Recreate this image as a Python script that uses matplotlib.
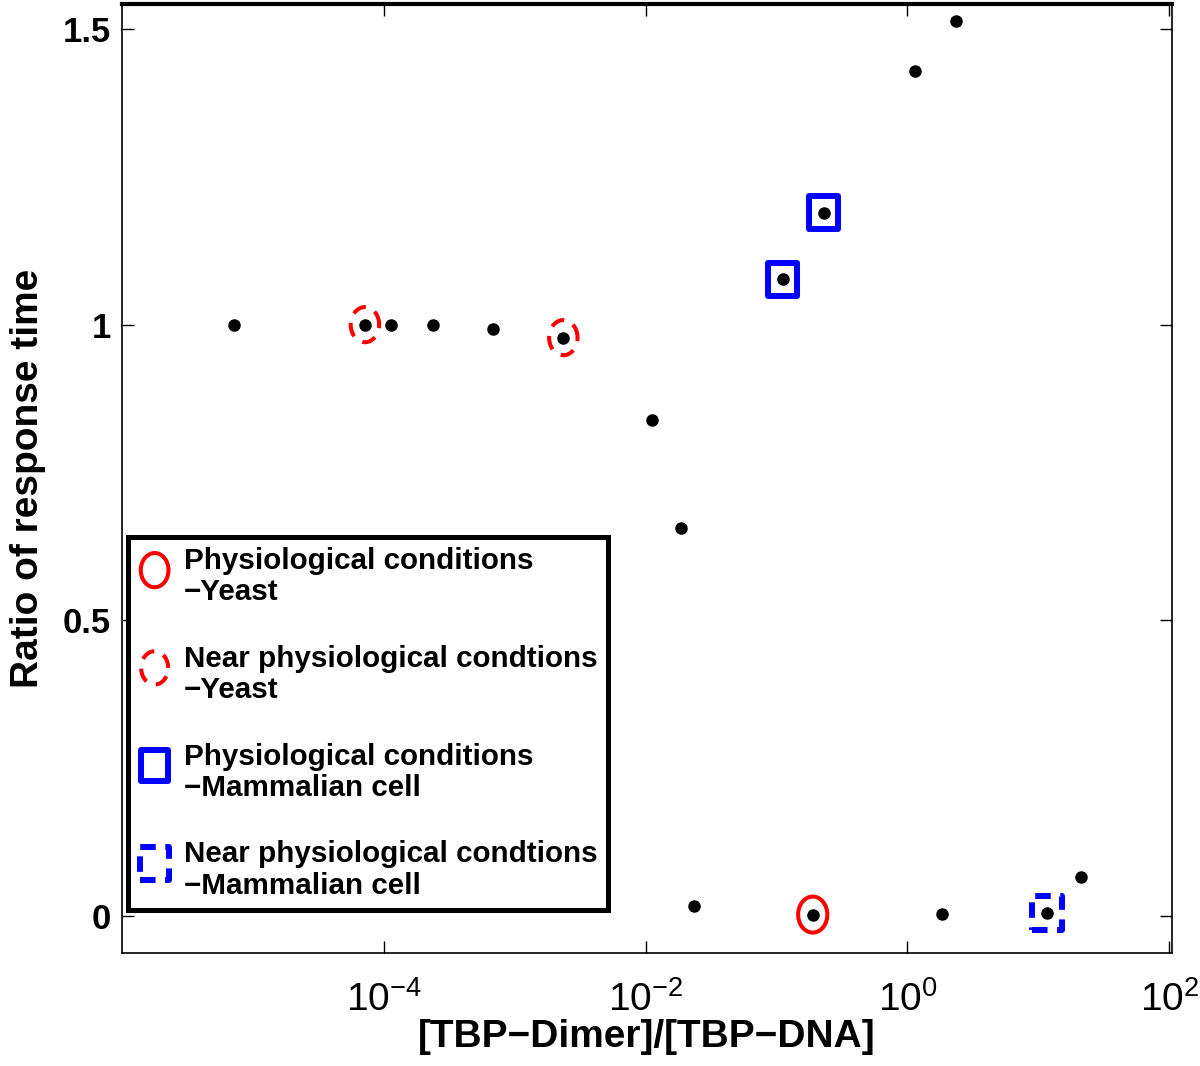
import matplotlib
matplotlib.use("Agg")
import matplotlib.pyplot as plt
import numpy as np
from matplotlib.path import Path
from matplotlib.ticker import FixedLocator, NullLocator

# data
ratio_x = [7.19e-6, 7.17e-5, 1.13e-4, 2.36e-4, 6.77e-4, 2.35e-3, 0.0112, 0.0187,
           0.0235, 0.1117, 0.229, 0.189, 1.15, 2.36, 1.85, 11.7, 21.2]
ratio_y = [1.0, 1.0, 1.0, 1.0, 0.993, 0.978, 0.839, 0.656,
           0.017, 1.077, 1.189, 0.002, 1.429, 1.514, 0.003, 0.005, 0.066]

phys_yeast_x, phys_yeast_y = [0.189], [0.002]
near_yeast_x, near_yeast_y = [7.17e-5, 2.35e-3], [1.0, 0.978]
phys_mamm_x, phys_mamm_y = [0.1117, 0.229], [1.077, 1.189]
near_mamm_x, near_mamm_y = [11.7], [0.005]

legend_labels = ["Physiological conditions\n\u2212Yeast",
                 "Near physiological condtions\n\u2212Yeast",
                 "Physiological conditions\n\u2212Mammalian cell",
                 "Near physiological condtions\n\u2212Mammalian cell"]

xticks = [1e-4, 1e-2, 1e0, 1e2]
xticklabels = [r"$10^{-4}$", r"$10^{-2}$", r"$10^{0}$", r"$10^{2}$"]
yticks = [0, 0.5, 1, 1.5]
yticklabels = ["0", "0.5", "1", "1.5"]

plt.rcParams["font.family"] = ["Liberation Sans", "DejaVu Sans"]
plt.rcParams["mathtext.fontset"] = "custom"
plt.rcParams["mathtext.rm"] = "Liberation Sans"
plt.rcParams["mathtext.default"] = "regular"

# tall ellipse and tall rectangle markers
t = np.linspace(0, 2 * np.pi, 80)
ellipse = Path(np.column_stack([0.81 * np.cos(t), np.sin(t)]), closed=True)
rect = Path([(-0.88, -1), (0.88, -1), (0.88, 1), (-0.88, 1), (-0.88, -1)], closed=True)

fig = plt.figure(figsize=(12, 10.66), dpi=100)
ax = fig.add_axes([0.1017, 0.106, 0.875, 0.890])

ax.scatter(phys_yeast_x, phys_yeast_y, s=672, marker=ellipse, facecolors="none",
           edgecolors="red", linewidths=2.9, label=legend_labels[0], zorder=2)
ax.scatter(near_yeast_x, near_yeast_y, s=640, marker=ellipse, facecolors="none",
           edgecolors="red", linewidths=2.9, linestyles=[(0, (3.5, 2.5))],
           label=legend_labels[1], zorder=2)
ax.scatter(phys_mamm_x, phys_mamm_y, s=565, marker=rect, facecolors="none",
           edgecolors="blue", linewidths=4.3, label=legend_labels[2], zorder=2)
ax.scatter(near_mamm_x, near_mamm_y, s=600, marker=rect, facecolors="none",
           edgecolors="blue", linewidths=4.3, linestyles=[(0, (2.6, 1.6))],
           label=legend_labels[3], zorder=2)
ax.plot(ratio_x, ratio_y, "o", color="black", markersize=8, zorder=3)

ax.set_xscale("log")
ax.set_xlim(1.0e-6, 1.05e2)
ax.set_ylim(-0.063, 1.542)
ax.xaxis.set_major_locator(FixedLocator(xticks))
ax.xaxis.set_minor_locator(NullLocator())
ax.set_xticks(xticks)
ax.set_xticklabels(xticklabels, fontsize=28)
ax.set_yticks(yticks)
ax.set_yticklabels(yticklabels, fontsize=25, fontweight="bold")
ax.tick_params(axis="both", direction="in", length=8.5, width=1, top=True, right=True)
ax.tick_params(axis="x", pad=20)
ax.tick_params(axis="y", pad=8)
for sp in ax.spines.values():
    sp.set_linewidth(1.2)
ax.spines["top"].set_linewidth(3)

ax.set_xlabel("[TBP\u2212Dimer]/[TBP\u2212DNA]", fontsize=28, fontweight="bold", labelpad=0)
ax.set_ylabel("Ratio of response time", fontsize=28, fontweight="bold", labelpad=12)

leg = ax.legend(loc="lower left", bbox_to_anchor=(0.0057, 0.0453), borderaxespad=0,
                prop={"size": 21.3, "weight": "bold"}, scatterpoints=1,
                scatteryoffsets=[0.85], markerscale=0.95, handlelength=1.1,
                handletextpad=0.45, borderpad=0.35, labelspacing=1.3,
                fancybox=False, framealpha=1, edgecolor="black")
leg.get_frame().set_linewidth(3.6)
for txt in leg.get_texts():
    txt.set_linespacing(1.15)

fig.savefig("out.png", dpi=100)
